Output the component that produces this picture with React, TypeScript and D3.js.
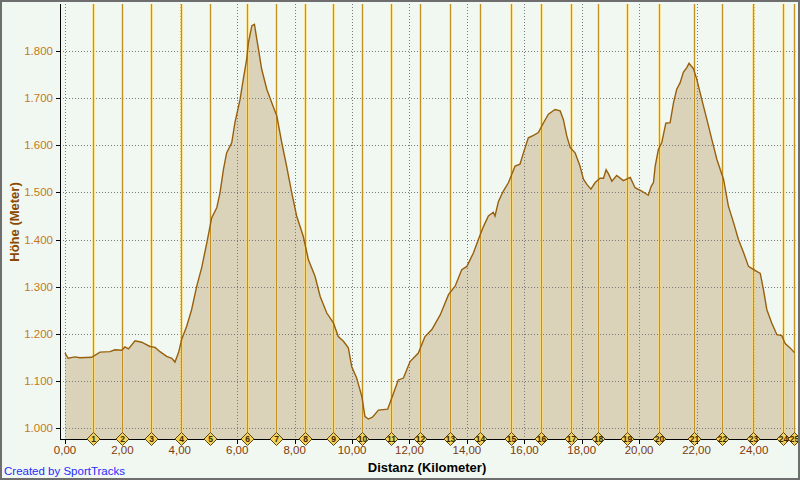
import * as d3 from 'd3';
import React from 'react';

// elevation profile
const distKm = [
  0.0, 0.11, 0.35, 0.52, 0.93, 1.22, 1.57, 1.74, 1.98, 2.09, 2.21, 2.44, 2.67, 2.96, 3.14, 3.31, 3.54, 3.72,
  3.83, 3.95, 4.07, 4.24, 4.41, 4.59, 4.76, 4.94, 5.11, 5.29, 5.4, 5.52, 5.63, 5.81, 5.92, 6.1, 6.21, 6.33,
  6.39, 6.51, 6.6, 6.68, 6.74, 6.85, 7.03, 7.2, 7.38, 7.55, 7.72, 7.9, 8.07, 8.3, 8.48, 8.71, 8.89, 9.12,
  9.35, 9.52, 9.7, 9.87, 9.99, 10.16, 10.34, 10.45, 10.57, 10.71, 10.92, 11.24, 11.38, 11.61, 11.79, 12.02,
  12.31, 12.54, 12.78, 13.07, 13.36, 13.59, 13.82, 14.0, 14.23, 14.4, 14.58, 14.75, 14.92, 14.98, 15.1,
  15.27, 15.45, 15.68, 15.85, 15.97, 16.14, 16.32, 16.49, 16.67, 16.84, 17.07, 17.25, 17.36, 17.48, 17.6,
  17.77, 17.94, 18.06, 18.18, 18.32, 18.47, 18.64, 18.76, 18.85, 18.93, 19.05, 19.22, 19.45, 19.69, 19.86,
  20.09, 20.32, 20.42, 20.5, 20.56, 20.67, 20.79, 20.93, 21.08, 21.2, 21.31, 21.43, 21.54, 21.66, 21.74,
  21.89, 22.01, 22.18, 22.36, 22.53, 22.71, 22.94, 23.11, 23.29, 23.46, 23.64, 23.81, 23.99, 24.22, 24.33,
  24.45, 24.62, 24.8, 24.97, 25.09, 25.26, 25.41,
];
const elevM = [
  1159, 1148, 1151, 1149, 1150, 1161, 1162, 1166, 1165, 1172, 1168, 1185, 1182, 1173, 1171, 1162, 1152, 1148,
  1140, 1159, 1189, 1216, 1251, 1301, 1340, 1393, 1446, 1468, 1499, 1549, 1584, 1606, 1648, 1698, 1740, 1783,
  1818, 1854, 1857, 1826, 1804, 1762, 1719, 1691, 1662, 1606, 1556, 1499, 1450, 1407, 1357, 1322, 1279, 1244,
  1223, 1194, 1184, 1170, 1130, 1106, 1067, 1024, 1019, 1023, 1038, 1040, 1063, 1102, 1106, 1141,
  1159, 1194, 1209, 1240, 1283, 1301, 1336, 1343, 1372, 1400, 1428, 1450, 1458, 1450, 1481,
  1503, 1521, 1556, 1560, 1584, 1616, 1621, 1627, 1648, 1666, 1676, 1673, 1655, 1620, 1595,
  1584, 1556, 1528, 1517, 1507, 1521, 1530, 1530, 1548, 1540, 1524, 1536, 1525, 1532, 1510,
  1503, 1494, 1513, 1521, 1556, 1591, 1606, 1647, 1648, 1691, 1719, 1733, 1755, 1765, 1774,
  1763, 1740, 1698, 1655, 1613, 1570, 1528, 1471, 1436, 1400, 1372, 1343, 1336, 1328, 1294,
  1251, 1223, 1198, 1196, 1179, 1170, 1160,
];
// lap markers (km)
const lapKm = [
  0.97, 1.99, 2.99, 4.03, 5.05, 6.33, 7.36, 8.36, 9.35, 10.36, 11.36, 12.37, 13.41, 14.44, 15.54, 16.59,
  17.61, 18.58, 19.59, 20.7, 21.92, 22.9, 23.98, 25.02, 25.41,
];
const xTicks = [0, 2, 4, 6, 8, 10, 12, 14, 16, 18, 20, 22, 24];
const yTicks = [1000, 1100, 1200, 1300, 1400, 1500, 1600, 1700, 1800];

const W = 800;
const H = 480;
const left = 60;
const right = 797;
const top = 4;
const bottom = 439;

const fmtX = (v: number) => v.toFixed(2).replace('.', ',');
const fmtY = (v: number) => d3.format(',')(v).replace(',', '.');

const App = () => {
  const x = d3.scaleLinear().domain([-0.174, 25.5]).range([left, right]);
  const y = d3.scaleLinear().domain([976.6, 1900]).range([bottom, top]);
  const pts = distKm.map((d, i) => [d, elevM[i]] as [number, number]);

  const area = d3
    .area<[number, number]>()
    .x((d) => x(d[0]))
    .y0(bottom)
    .y1((d) => y(d[1]));
  const line = d3
    .line<[number, number]>()
    .x((d) => x(d[0]))
    .y((d) => y(d[1]));

  const font = 'Tahoma, "Liberation Sans", Arial, sans-serif';

  return (
    <div style={{ position: 'absolute', left: 0, top: 0 }}>
      <svg width={W} height={H} style={{ display: 'block' }}>
        <rect x={0} y={0} width={W} height={H} fill="#f1f8f1" />
        <clipPath id="plot">
          <rect x={left} y={top} width={right - left} height={bottom - top} />
        </clipPath>

        <g clipPath="url(#plot)">
          <path d={area(pts) || ''} fill="#dbd3b9" />
          {/* grid */}
          {yTicks.map((t) => (
            <line key={'gy' + t} x1={left} x2={right} y1={Math.round(y(t)) + 0.5} y2={Math.round(y(t)) + 0.5}
              stroke="#7a7a7a" strokeDasharray="1,2" />
          ))}
          {xTicks.map((t) => (
            <line key={'gx' + t} x1={Math.round(x(t)) + 0.5} x2={Math.round(x(t)) + 0.5} y1={top} y2={bottom}
              stroke="#7a7a7a" strokeDasharray="1,2" />
          ))}
          {/* lap lines */}
          {lapKm.map((k, i) => (
            <g key={'lap' + i}>
              <line x1={Math.round(x(k)) + 0.5} x2={Math.round(x(k)) + 0.5} y1={top} y2={bottom}
                stroke="#ffd870" strokeOpacity={0.65} strokeWidth={3} />
              <line x1={Math.round(x(k)) + 0.5} x2={Math.round(x(k)) + 0.5} y1={top} y2={bottom}
                stroke="#b88410" strokeOpacity={0.85} strokeWidth={1} />
            </g>
          ))}
          <path d={line(pts) || ''} fill="none" stroke="#98600c" strokeWidth={1.4} />
        </g>

        {/* axes */}
        <line x1={left + 0.5} x2={left + 0.5} y1={top} y2={bottom} stroke="#000" />
        <line x1={left} x2={right} y1={bottom + 0.5} y2={bottom + 0.5} stroke="#000" />
        {yTicks.map((t) => (
          <g key={'ty' + t}>
            <line x1={left - 4} x2={left} y1={Math.round(y(t)) + 0.5} y2={Math.round(y(t)) + 0.5} stroke="#000" />
            <text x={left - 7} y={y(t) + 4} textAnchor="end" fontFamily={font} fontSize={11.5} fill="#c4781a">
              {fmtY(t)}
            </text>
          </g>
        ))}
        {xTicks.map((t) => (
          <g key={'tx' + t}>
            <line x1={Math.round(x(t)) + 0.5} x2={Math.round(x(t)) + 0.5} y1={bottom} y2={bottom + 5} stroke="#000" />
            <text x={x(t)} y={bottom + 15} textAnchor="middle" fontFamily={font} fontSize={11.5} fill="#7e3a0c">
              {fmtX(t)}
            </text>
          </g>
        ))}

        {/* lap markers */}
        {lapKm.map((k, i) => {
          const cx = Math.round(x(k)) + 0.5;
          return (
            <g key={'m' + i} transform={`translate(${cx},${bottom})`}>
              <path d="M0,-6.5L6.5,0L0,6.5L-6.5,0Z" fill="#f4d25a" stroke="#5a4410" strokeWidth={1} />
              <text y={3} textAnchor="middle" fontFamily={font} fontSize={8.5} fontWeight="bold" fill="#3a2a00">
                {i + 1}
              </text>
            </g>
          );
        })}

        {/* titles */}
        <text x={427} y={472} textAnchor="middle" fontFamily={font} fontSize={13} fontWeight="bold" fill="#000">
          Distanz (Kilometer)
        </text>
        <text transform="translate(19,222) rotate(-90)" textAnchor="middle" fontFamily={font} fontSize={13}
          fontWeight="bold" fill="#8a4800">
          Höhe (Meter)
        </text>
        <text x={4} y={475} fontFamily={font} fontSize={11.5} fill="#2a2aff">
          Created by SportTracks
        </text>

        <rect x={1} y={1} width={W - 2} height={H - 2} fill="none" stroke="#6e6e6e" strokeWidth={2} />
      </svg>
    </div>
  );
};

export default App;
